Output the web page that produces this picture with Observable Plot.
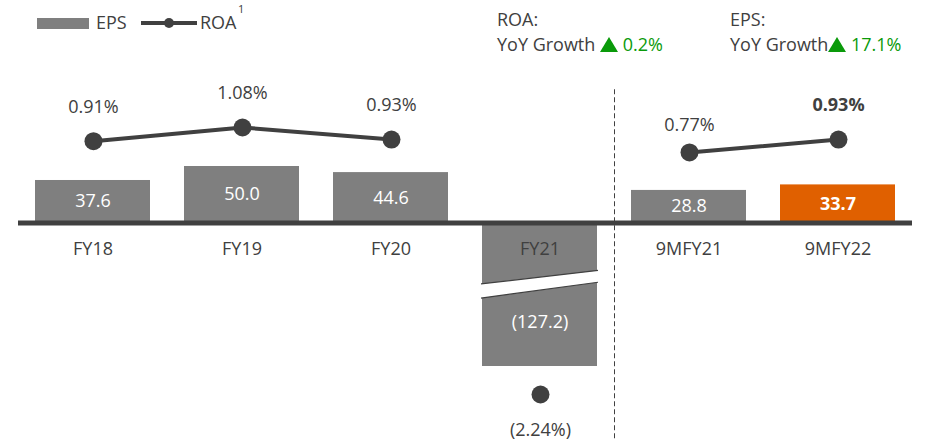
<!DOCTYPE html>
<html><head><meta charset="utf-8">
<script src="https://cdn.jsdelivr.net/npm/d3@7"></script>
<script src="https://cdn.jsdelivr.net/npm/@observablehq/plot@0.6"></script>
<style>
body{margin:0;background:#fff;font-family:"Open Sans",sans-serif;color:#404040;}
#wrap{position:relative;width:930px;height:441px;overflow:hidden;background:#fff}
#wrap > svg{position:absolute;left:0;top:0}
.lg{position:absolute;font-size:18px;line-height:20px;white-space:nowrap;color:#404040}
.green{color:#0A9A0A}
.tri{display:inline-block;vertical-align:-1px}
</style></head><body><div id="wrap"></div>
<script>
// ---- data ----
const categories = ["FY18", "FY19", "FY20", "FY21", "9MFY21", "9MFY22"];
const epsValues  = [37.6, 50.0, 44.6, -127.2, 28.8, 33.7];
const epsLabels  = ["37.6", "50.0", "44.6", "(127.2)", "28.8", "33.7"];
const roaValues  = [0.91, 1.08, 0.93, -2.24, 0.77, 0.93];
const roaLabels  = ["0.91%", "1.08%", "0.93%", "(2.24%)", "0.77%", "0.93%"];
const roaSegment = ["full-year", "full-year", "full-year", null, "nine-month", "nine-month"];
const highlight  = "9MFY22";
const growthROA  = "0.2%";
const growthEPS  = "17.1%";

const data = categories.map((c, i) => ({
  cat: c, eps: epsValues[i], epsLabel: epsLabels[i],
  roa: roaValues[i], roaLabel: roaLabels[i], seg: roaSegment[i]
}));

const DARK = "#404040", GREY = "#7F7F7F", ORANGE = "#E06000";
const font = {fontFamily: "Open Sans, sans-serif", fontSize: "18px", background: "transparent", overflow: "visible"};
const xScale = {domain: categories, range: [18, 912], paddingInner: 0.228, paddingOuter: 0.114, axis: null};
const common = {width: 930, height: 441, marginTop: 0, marginBottom: 0, marginLeft: 18, marginRight: 18};

// ---- EPS bars ----
const step = 894 / categories.length;
const bars = Plot.plot({
  ...common, style: font, x: xScale,
  y: {domain: [-127.2, 50], range: [366, 166], axis: null},
  marks: [
    Plot.barY(data, {x: "cat", y: "eps", fill: d => d.cat === highlight ? ORANGE : GREY}),
    Plot.ruleX(["9MFY21"], {x: d => d, y1: 118, y2: -200, dx: -step / 2, stroke: DARK, strokeWidth: 1, strokeDasharray: "5,3"}),
    Plot.ruleY([0], {stroke: DARK, strokeWidth: 5}),
    Plot.text(data, {x: "cat", y: 0, dy: 26, text: "cat", fill: DARK}),
    Plot.text(data.filter(d => d.eps >= 0 && d.cat !== highlight), {x: "cat", y: d => d.eps / 2, text: "epsLabel", fill: "white"}),
    Plot.text(data.filter(d => d.cat === highlight), {x: "cat", y: d => d.eps / 2, text: "epsLabel", fill: "white", fontWeight: "bold"}),
    Plot.text(data.filter(d => d.eps < 0), {x: "cat", y: "eps", dy: -44, text: "epsLabel", fill: "white"})
  ]
});

// axis break on the negative bar
{
  const x = bars.scale("x"), y = bars.scale("y");
  const neg = data.find(d => d.eps < 0);
  const x0 = x.apply(neg.cat), x1 = x0 + x.bandwidth;
  const brk = {leftTop: -54.5, leftBottom: -67, rightTop: -42.5, rightBottom: -53};
  const g = d3.select(bars).append("g");
  g.append("polygon")
    .attr("points", [[x0 - 1, y.apply(brk.leftTop)], [x1 + 1, y.apply(brk.rightTop)], [x1 + 1, y.apply(brk.rightBottom)], [x0 - 1, y.apply(brk.leftBottom)]].join(" "))
    .attr("fill", "white");
  g.append("line").attr("x1", x0 - 1).attr("x2", x1 + 1).attr("y1", y.apply(brk.leftTop)).attr("y2", y.apply(brk.rightTop)).attr("stroke", DARK).attr("stroke-width", 1.2);
  g.append("line").attr("x1", x0 - 1).attr("x2", x1 + 1).attr("y1", y.apply(brk.leftBottom)).attr("y2", y.apply(brk.rightBottom)).attr("stroke", DARK).attr("stroke-width", 1.2);
}

// ---- ROA line ----
const roa = Plot.plot({
  ...common, style: font, x: xScale,
  y: {domain: [-2.24, 1.08], range: [394, 127], axis: null},
  marks: [
    Plot.line(data.filter(d => d.seg), {x: "cat", y: "roa", z: "seg", stroke: DARK, strokeWidth: 4}),
    Plot.dot(data, {x: "cat", y: "roa", r: 9, fill: DARK}),
    Plot.text(data.filter(d => d.roa >= 0 && d.cat !== highlight && d.cat !== "9MFY21"), {x: "cat", y: "roa", dy: -34, text: "roaLabel", fill: DARK}),
    Plot.text(data.filter(d => d.cat === "9MFY21"), {x: "cat", y: "roa", dy: -27, text: "roaLabel", fill: DARK}),
    Plot.text(data.filter(d => d.cat === highlight), {x: "cat", y: "roa", dy: -34, text: "roaLabel", fill: DARK, fontWeight: "bold"}),
    Plot.text(data.filter(d => d.roa < 0), {x: "cat", y: "roa", dy: 36, text: "roaLabel", fill: DARK})
  ]
});

const wrap = document.getElementById("wrap");
wrap.append(bars, roa);

// ---- legend & growth notes ----
const tri = `<svg class="tri" width="18" height="15" viewBox="0 0 18 15"><polygon points="9,0 18,15 0,15" fill="#0A9A0A"/></svg>`;
wrap.insertAdjacentHTML("beforeend", `
  <div style="position:absolute;left:37px;top:18px;width:52px;height:11px;background:${GREY}"></div>
  <div class="lg" style="left:96px;top:12px">EPS</div>
  <svg style="position:absolute;left:141px;top:16px" width="56" height="14"><line x1="0" x2="56" y1="7" y2="7" stroke="${DARK}" stroke-width="4" stroke-linecap="round"/><circle cx="28" cy="7" r="5" fill="${DARK}"/></svg>
  <div class="lg" style="left:200px;top:12px">ROA</div>
  <div class="lg" style="left:238px;top:3px;font-size:11px;line-height:12px">1</div>
  <div class="lg" style="left:497px;top:9px">ROA:</div>
  <div class="lg" style="left:497px;top:34px">YoY Growth ${tri} <span class="green">${growthROA}</span></div>
  <div class="lg" style="left:730px;top:9px">EPS:</div>
  <div class="lg" style="left:730px;top:34px">YoY Growth${tri} <span class="green">${growthEPS}</span></div>
`);
</script></body></html>
